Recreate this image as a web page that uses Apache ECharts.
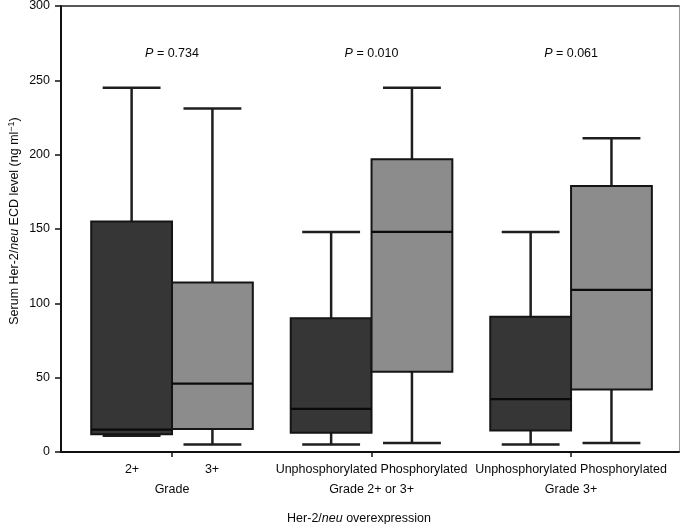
<!DOCTYPE html>
<html><head><meta charset="utf-8">
<script src="https://cdn.jsdelivr.net/npm/echarts@6/dist/echarts.min.js"></script>
<style>html,body{margin:0;padding:0;background:#fff}#c{width:685px;height:524px}</style>
</head><body><div id="c"></div>
<script>
// ---- data ----
const groupCenters = [1, 2, 3];
const groupNames = ['Grade', 'Grade 2+ or 3+', 'Grade 3+'];
const darkNames = ['2+', 'Unphosphorylated', 'Unphosphorylated'];
const lightNames = ['3+', 'Phosphorylated', 'Phosphorylated'];
const pValues = ['0.734', '0.010', '0.061'];
// [lower whisker, Q1, median, Q3, upper whisker]
const darkBoxes = [
  [11, 12, 15, 155, 245],
  [5, 13, 29, 90, 148],
  [5, 14.5, 35.5, 91, 148]
];
const lightBoxes = [
  [5, 15.5, 46, 114, 231],
  [6, 54, 148, 197, 245],
  [6, 42, 109, 179, 211]
];
const yMin = 0, yMax = 300, yStep = 50;

// ---- style constants ----
const FONT = '"Liberation Sans", Arial, Helvetica, sans-serif';
const TXT = '#0a0a0a';
const BOX_W = 0.405;   // in x-axis units
const CAP_W = 0.29;
const P_LEVEL = 268;

function boxRender(side, fill) {
  return function (params, api) {
    const gx = api.value(0);
    const lo = api.value(1), q1 = api.value(2), med = api.value(3), q3 = api.value(4), hi = api.value(5);
    const x0 = side < 0 ? gx - BOX_W : gx;
    const x1 = side < 0 ? gx : gx + BOX_W;
    const xc = (x0 + x1) / 2;
    const tl = api.coord([x0, q3]);
    const br = api.coord([x1, q1]);
    const pHi = api.coord([xc, hi]);
    const pLo = api.coord([xc, lo]);
    const pMed0 = api.coord([x0, med]);
    const pMed1 = api.coord([x1, med]);
    const capL = api.coord([xc - CAP_W / 2, hi])[0];
    const capR = api.coord([xc + CAP_W / 2, hi])[0];
    const wStyle = { stroke: '#1e1e1e', lineWidth: 2.5 };
    return {
      type: 'group',
      children: [
        { type: 'line', shape: { x1: pHi[0], y1: pHi[1], x2: pHi[0], y2: tl[1] }, style: wStyle },
        { type: 'line', shape: { x1: capL, y1: pHi[1], x2: capR, y2: pHi[1] }, style: wStyle },
        { type: 'line', shape: { x1: pLo[0], y1: pLo[1], x2: pLo[0], y2: br[1] }, style: wStyle },
        { type: 'line', shape: { x1: capL, y1: pLo[1], x2: capR, y2: pLo[1] }, style: wStyle },
        { type: 'rect', shape: { x: tl[0], y: tl[1], width: br[0] - tl[0], height: br[1] - tl[1] },
          style: { fill: fill, stroke: '#151515', lineWidth: 2 } },
        { type: 'line', shape: { x1: pMed0[0], y1: pMed0[1], x2: pMed1[0], y2: pMed1[1] },
          style: { stroke: '#0a0a0a', lineWidth: 2.2 } }
      ]
    };
  };
}

const darkData = groupCenters.map((g, i) => [g].concat(darkBoxes[i]));
const lightData = groupCenters.map((g, i) => [g].concat(lightBoxes[i]));
const pData = groupCenters.map((g, i) => [g, P_LEVEL, pValues[i]]);

const chart = echarts.init(document.getElementById('c'), null, { renderer: 'canvas' });
chart.setOption({
  animation: false,
  backgroundColor: '#fff',
  textStyle: { fontFamily: FONT },
  grid: { left: 61, right: 6, top: 6, bottom: 72, containLabel: false, outerBoundsMode: 'none' },
  xAxis: [{
    type: 'value', min: 0.4436, max: 3.541,
    axisLine: { show: true, onZero: false, lineStyle: { color: '#111', width: 2 } },
    axisTick: { show: true, customValues: groupCenters, length: 5, lineStyle: { color: '#111', width: 1.5 } },
    axisLabel: {
      customValues: groupCenters, margin: 8, fontFamily: FONT, color: TXT,
      formatter: function (v) {
        const i = Math.round(v) - 1;
        if (i === 0) return '{s|' + darkNames[i] + '}{s|' + lightNames[i] + '}\n{g|' + groupNames[i] + '}';
        return '{t|' + darkNames[i] + ' ' + lightNames[i] + '}\n{g|' + groupNames[i] + '}';
      },
      rich: {
        s: { width: 80, align: 'center', fontSize: 12.5, lineHeight: 20, fontFamily: FONT, color: TXT },
        t: { fontSize: 12.5, lineHeight: 20, fontFamily: FONT, color: TXT },
        g: { fontSize: 12.5, lineHeight: 20, fontFamily: FONT, color: TXT }
      }
    },
    splitLine: { show: false },
    name: '{n|Her-2/}{i|neu}{n| overexpression}',
    nameLocation: 'middle', nameGap: 60, nameMoveOverlap: false,
    nameTextStyle: {
      padding: [0, 22, 0, 0],
      rich: {
        n: { fontSize: 12.5, fontFamily: FONT, color: TXT },
        i: { fontSize: 12.5, fontFamily: FONT, fontStyle: 'italic', color: TXT }
      }
    }
  }, {
    type: 'value', position: 'top', min: 0.4436, max: 3.541,
    axisLine: { show: true, onZero: false, lineStyle: { color: '#222', width: 1.5 } },
    axisTick: { show: false }, axisLabel: { show: false }, splitLine: { show: false }
  }],
  yAxis: [{
    type: 'value', min: yMin, max: yMax, interval: yStep,
    axisLine: { show: true, onZero: false, lineStyle: { color: '#111', width: 2 } },
    axisTick: { show: true, length: 6, lineStyle: { color: '#111', width: 1.5 } },
    axisLabel: { margin: 11, fontSize: 12.5, color: TXT, fontFamily: FONT },
    splitLine: { show: false },
    name: '{n|Serum Her-2/}{i|neu}{n| ECD level (ng ml}{s|−1}{n|)}',
    nameLocation: 'middle', nameGap: 38, nameMoveOverlap: false,
    nameTextStyle: {
      padding: [0, 0, 0, 16],
      rich: {
        n: { fontSize: 12.5, lineHeight: 16, fontFamily: FONT, color: TXT },
        i: { fontSize: 12.5, lineHeight: 16, fontFamily: FONT, fontStyle: 'italic', color: TXT },
        s: { fontSize: 9, lineHeight: 16, fontFamily: FONT, color: TXT, verticalAlign: 'top' }
      }
    }
  }, {
    type: 'value', position: 'right', min: yMin, max: yMax,
    axisLine: { show: true, onZero: false, lineStyle: { color: '#9a9a9a', width: 1 } },
    axisTick: { show: false }, axisLabel: { show: false }, splitLine: { show: false }
  }],
  series: [
    { type: 'custom', name: 'dark', renderItem: boxRender(-1, '#363636'), data: darkData, encode: { x: 0, y: [1, 2, 3, 4, 5] }, z: 3 },
    { type: 'custom', name: 'light', renderItem: boxRender(1, '#8c8c8c'), data: lightData, encode: { x: 0, y: [1, 2, 3, 4, 5] }, z: 3 },
    {
      type: 'custom', name: 'p', data: pData, encode: { x: 0, y: 1 }, z: 4,
      renderItem: function (params, api) {
        const p = api.coord([api.value(0), api.value(1)]);
        return {
          type: 'text', x: p[0], y: p[1],
          style: {
            text: '{i|P} = ' + pValues[params.dataIndex],
            align: 'center', verticalAlign: 'middle',
            font: '12.5px ' + FONT, fill: TXT,
            rich: { i: { fontStyle: 'italic', fontSize: 12.5, fontFamily: FONT, fill: TXT } }
          }
        };
      }
    }
  ]
});
</script></body></html>
